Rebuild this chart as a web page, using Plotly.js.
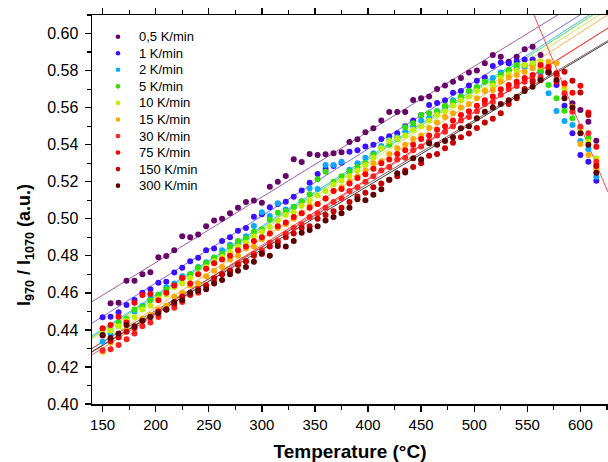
<!DOCTYPE html>
<html><head><meta charset="utf-8">
<script src="https://cdn.plot.ly/plotly-3.0.1.min.js"></script>
<style>html,body{margin:0;padding:0;background:#fff;overflow:hidden}#chart{width:608px;height:462px}</style>
</head><body><div id="chart"></div>
<script>
// ---- data ----
const seriesNames = ["0,5 K/min","1 K/min","2 K/min","5 K/min","10 K/min","15 K/min","30 K/min","75 K/min","150 K/min","300 K/min"];
const temps = [150,157.5,165,172.5,180,187.5,195,202.5,210,217.5,225,232.5,240,247.5,255,262.5,270,277.5,285,292.5,300,307.5,315,322.5,330,337.5,345,352.5,360,367.5,375,382.5,390,397.5,405,412.5,420,427.5,435,442.5,450,457.5,465,472.5,480,487.5,495,502.5,510,517.5,525,532.5,540,547.5,555,562.5,570,577.5,585,592.5,600,607.5,615];
const r05 = [null,0.4544,0.4547,0.4666,0.4666,0.4700,0.4711,0.4792,0.4799,0.4830,0.4905,0.4900,0.4915,0.4960,0.4990,0.5000,0.5030,0.5060,0.5090,0.5098,0.5087,0.5173,0.5200,0.5231,0.5321,0.5307,0.5350,0.5344,0.5348,0.5354,0.5359,0.5415,0.5429,0.5467,0.5489,0.5530,0.5577,0.5577,0.5577,0.5641,0.5650,0.5660,0.5700,0.5720,0.5740,0.5760,0.5790,0.5800,0.5840,0.5884,0.5875,0.5848,0.5875,0.5915,0.5929,0.5884,null,null,null,0.5623,0.5587,0.5524,0.5421];
const r1 = [0.4468,0.4471,0.4495,0.4535,0.4562,0.4600,0.4620,0.4655,0.4660,0.4710,0.4735,0.4770,0.4790,0.4830,0.4840,0.4880,0.4900,0.4935,0.4950,0.5011,0.5024,0.5062,0.5080,0.5092,0.5119,0.5152,0.5195,0.5242,0.5269,0.5285,0.5303,0.5362,0.5370,0.5390,0.5400,0.5430,0.5445,0.5462,0.5500,0.5530,0.5560,0.5614,0.5625,0.5640,0.5680,0.5690,0.5720,0.5745,0.5763,0.5825,0.5844,0.5839,0.5850,0.5860,0.5860,0.5794,0.5790,0.5722,0.5610,0.5461,0.5344,0.5308,0.5205];
const r2 = [0.4336,0.4380,0.4420,0.4445,0.4500,0.4530,0.4570,0.4590,0.4630,0.4650,0.4690,0.4700,0.4740,0.4765,0.4790,0.4830,0.4860,0.4870,0.4905,0.4961,0.5035,0.5015,0.5084,0.5050,0.5065,0.5095,0.5165,0.5160,0.5290,0.5290,0.5308,0.5265,0.5300,0.5330,0.5354,0.5393,0.5425,0.5440,0.5470,0.5500,0.5530,0.5545,0.5580,0.5600,0.5640,0.5655,0.5690,0.5710,0.5740,0.5760,0.5790,0.5800,0.5810,0.5820,0.5830,0.5790,0.5677,0.5582,0.5528,0.5506,0.5420,0.5375,0.5227];
const r5 = [0.4405,0.4400,0.4440,0.4460,0.4510,0.4525,0.4560,0.4590,0.4620,0.4640,0.4680,0.4700,0.4735,0.4760,0.4790,0.4810,0.4850,0.4880,0.4895,0.4930,0.4943,0.4994,0.5033,0.5040,0.5065,0.5095,0.5132,0.5213,0.5254,0.5200,0.5230,0.5255,0.5280,0.5300,0.5345,0.5380,0.5400,0.5430,0.5494,0.5516,0.5560,0.5570,0.5580,0.5610,0.5630,0.5660,0.5690,0.5710,0.5740,0.5731,0.5776,0.5803,0.5830,0.5830,0.5835,0.5800,0.5722,0.5650,0.5583,0.5542,0.5490,0.5434,0.5290];
const r10 = [0.4380,0.4395,0.4420,0.4450,0.4470,0.4510,0.4530,0.4570,0.4590,0.4630,0.4650,0.4680,0.4700,0.4740,0.4770,0.4795,0.4820,0.4850,0.4870,0.4905,0.4930,0.4955,0.4990,0.5020,0.5035,0.5070,0.5100,0.5125,0.5150,0.5185,0.5205,0.5230,0.5260,0.5290,0.5330,0.5380,0.5420,0.5435,0.5450,0.5480,0.5500,0.5530,0.5560,0.5580,0.5610,0.5640,0.5660,0.5690,0.5695,0.5720,0.5760,0.5780,0.5800,0.5830,0.5840,0.5848,0.5830,0.5770,0.5695,0.5580,0.5479,0.5416,0.5326];
const r15 = [0.4282,0.4330,0.4360,0.4400,0.4410,0.4460,0.4480,0.4510,0.4530,0.4580,0.4600,0.4640,0.4650,0.4690,0.4720,0.4740,0.4780,0.4800,0.4840,0.4850,0.4890,0.4920,0.4950,0.4970,0.5000,0.5030,0.5070,0.5080,0.5110,0.5150,0.5170,0.5200,0.5230,0.5260,0.5300,0.5310,0.5350,0.5380,0.5400,0.5430,0.5450,0.5490,0.5520,0.5550,0.5570,0.5600,0.5620,0.5650,0.5690,0.5695,0.5740,0.5763,0.5776,0.5794,0.5812,0.5820,0.5848,0.5839,0.5720,0.5605,0.5403,0.5344,0.5270];
const r30 = [0.4290,0.4295,0.4319,0.4350,0.4380,0.4420,0.4440,0.4470,0.4510,0.4520,0.4550,0.4590,0.4600,0.4640,0.4660,0.4700,0.4720,0.4760,0.4770,0.4810,0.4830,0.4870,0.4880,0.4920,0.4950,0.4970,0.5010,0.5030,0.5060,0.5090,0.5110,0.5150,0.5170,0.5200,0.5230,0.5260,0.5280,0.5320,0.5330,0.5370,0.5390,0.5420,0.5450,0.5470,0.5500,0.5530,0.5550,0.5580,0.5620,0.5630,0.5670,0.5700,0.5717,0.5740,0.5749,0.5767,0.5803,0.5776,0.5677,0.5578,0.5497,0.5461,0.5308];
const r75 = [0.4409,0.4427,0.4471,0.4440,0.4547,0.4589,0.4594,0.4560,0.4600,0.4640,0.4680,0.4650,0.4700,0.4730,0.4760,0.4780,0.4800,0.4830,0.4850,0.4880,0.4900,0.4920,0.4960,0.4980,0.5010,0.5030,0.5060,0.5080,0.5110,0.5150,0.5160,0.5190,0.5220,0.5240,0.5270,0.5300,0.5320,0.5350,0.5370,0.5400,0.5430,0.5450,0.5480,0.5500,0.5530,0.5560,0.5580,0.5610,0.5640,0.5660,0.5699,0.5722,0.5740,0.5760,0.5776,0.5830,0.5820,0.5740,0.5731,0.5680,0.5718,0.5574,0.5389];
const r150 = [0.4370,0.4340,0.4360,0.4390,0.4410,0.4450,0.4470,0.4500,0.4510,0.4540,0.4580,0.4590,0.4620,0.4640,0.4680,0.4700,0.4720,0.4750,0.4770,0.4800,0.4810,0.4850,0.4870,0.4900,0.4920,0.4950,0.4960,0.5000,0.5020,0.5040,0.5060,0.5090,0.5120,0.5140,0.5170,0.5190,0.5210,0.5230,0.5260,0.5280,0.5300,0.5340,0.5350,0.5380,0.5410,0.5440,0.5460,0.5490,0.5520,0.5540,0.5570,0.5620,0.5650,0.5700,0.5740,0.5749,0.5794,0.5785,0.5794,0.5745,0.5681,0.5560,0.5285];
const r300 = [0.4373,0.4356,0.4380,0.4427,0.4420,0.4450,0.4470,0.4490,0.4510,0.4550,0.4560,0.4600,0.4610,0.4620,0.4650,0.4670,0.4700,0.4720,0.4740,0.4768,0.4814,0.4800,0.4853,0.4850,0.4880,0.4925,0.4940,0.4960,0.4990,0.5010,0.5030,0.5060,0.5105,0.5100,0.5129,0.5159,0.5210,0.5246,0.5250,0.5327,0.5320,0.5408,0.5400,0.5420,0.5440,0.5489,0.5500,0.5543,0.5578,0.5600,0.5620,0.5640,0.5659,0.5690,0.5713,0.5749,0.5790,0.5749,0.5650,0.5600,0.5461,0.5400,0.5249];
// linear fits: value at 140 °C and slope per °C
const fitAt140 = [0.4552,0.4436,0.4367,0.4360,0.4352,0.4299,0.4265,0.4280,0.4300,0.4283];
const fitSlope = [3.53e-4,3.62e-4,3.70e-4,3.69e-4,3.66e-4,3.71e-4,3.63e-4,3.60e-4,3.42e-4,3.44e-4];
// fit of the decreasing part: value at 555 °C and slope
const dropFitAt555 = 0.6118;
const dropFitSlope = -1.373e-3;

// ---- styles ----
const allSeries = [r05,r1,r2,r5,r10,r15,r30,r75,r150,r300];
const markerColors = ['#66046a','#3a10ff','#0aa8ff','#2fe000','#c4ee00','#ffa800','#ff2020','#ff0000','#c80000','#5e0000'];
const lineColors = ['#a45ea8','#7b6cff','#40b6ff','#50e050','#d0e84a','#ffb347','#ff6a6a','#ff3b3b','#8c5a5a','#3c3c3c'];
const xRange = [140, 626];
const yRange = [0.40, 0.61];

const traces = [];
allSeries.forEach((s,i)=>{
  traces.push({x:xRange.slice(), y:xRange.map(t=>fitAt140[i]+fitSlope[i]*(t-140)), mode:'lines',
    line:{color:lineColors[i], width:1}, hoverinfo:'skip', showlegend:false});
});
traces.push({x:[540, xRange[1]], y:[540, xRange[1]].map(t=>dropFitAt555+dropFitSlope*(t-555)), mode:'lines',
  line:{color:'#ff4a4a', width:1}, hoverinfo:'skip', showlegend:false});
allSeries.forEach((s,i)=>{
  traces.push({x:temps, y:s, name:seriesNames[i], mode:'markers',
    marker:{color:markerColors[i], size:6}, showlegend:false});
});

const W=608,H=462,ML=92,MR=0,MT=15,MB=58;
const px = x => (x-ML)/(W-ML-MR);
const py = y => (H-MB-y)/(H-MT-MB);
const FONT = 'Arial, "Liberation Sans", sans-serif';

const shapes=[], annotations=[];
seriesNames.forEach((n,i)=>{
  const yy = 36.7 + 16.55*i;
  shapes.push({type:'circle', xref:'paper', yref:'paper', xsizemode:'pixel', ysizemode:'pixel',
    xanchor:px(118), yanchor:py(yy), x0:-2.3, x1:2.3, y0:-2.3, y1:2.3,
    fillcolor:markerColors[i], line:{width:0}});
  annotations.push({xref:'paper', yref:'paper', x:px(137), y:py(yy), xanchor:'left', yanchor:'middle',
    text:n, showarrow:false, font:{family:FONT, size:13, color:'#000'}});
});
annotations.push({xref:'paper', yref:'paper', x:px(25), y:py(245), xanchor:'center', yanchor:'middle',
  textangle:-90, showarrow:false, text:'<b>I<sub>970</sub> / I<sub>1070</sub> (a.u.)</b>',
  font:{family:FONT, size:18, color:'#000'}});

const layout = {
  width:W, height:H, margin:{l:ML,r:MR,t:MT,b:MB}, paper_bgcolor:'#fff', plot_bgcolor:'#fff',
  font:{family:FONT, color:'#000'},
  xaxis:{range:xRange, tick0:150, dtick:50, ticks:'outside', ticklen:6, tickwidth:1.3, tickcolor:'#000',
    showline:true, linecolor:'#000', linewidth:1.5, mirror:'ticks', showgrid:false, zeroline:false,
    minor:{dtick:25, tick0:150, ticks:'outside', ticklen:4, tickwidth:1.2, tickcolor:'#000', showgrid:false},
    tickfont:{family:FONT, size:15, color:'#000'}, ticklabelstandoff:0,
    title:{text:'<b>Temperature (°C)</b>', font:{family:FONT, size:19, color:'#000'}, standoff:17}},
  yaxis:{range:yRange, tick0:0.40, dtick:0.02, tickformat:'.2f', ticks:'outside', ticklen:6, tickwidth:1.3, tickcolor:'#000',
    showline:true, linecolor:'#000', linewidth:1.5, mirror:false, showgrid:false, zeroline:false,
    minor:{dtick:0.01, tick0:0.40, ticks:'outside', ticklen:4, tickwidth:1.2, tickcolor:'#000', showgrid:false},
    tickfont:{family:FONT, size:16, color:'#000'}, ticklabelstandoff:3},
  showlegend:false, shapes:shapes, annotations:annotations
};
Plotly.newPlot('chart', traces, layout, {staticPlot:true, displayModeBar:false});
</script></body></html>
